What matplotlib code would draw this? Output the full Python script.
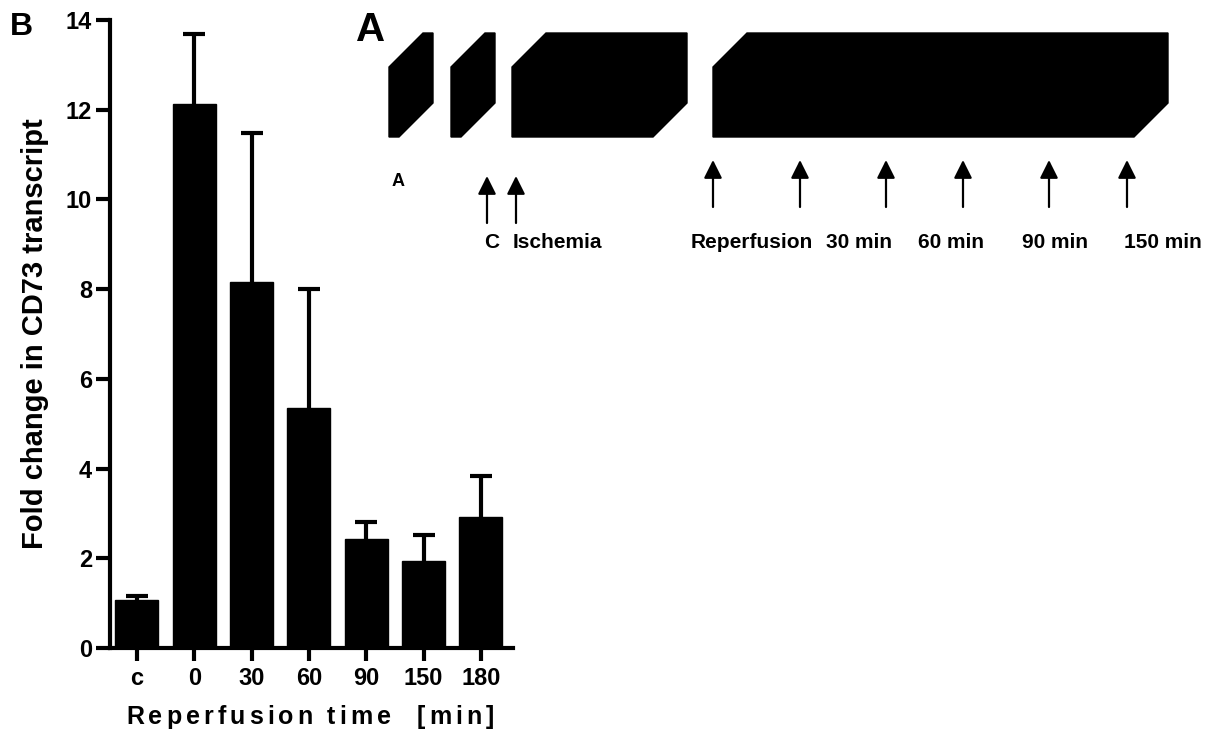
import numpy as np
import matplotlib
matplotlib.use('Agg')
import matplotlib.pyplot as plt
from matplotlib.patches import Polygon
from matplotlib.font_manager import FontProperties, findfont, get_font

plt.rcParams['font.family'] = ['Liberation Sans', 'DejaVu Sans']
plt.rcParams['font.weight'] = 'bold'

# data (panel B)
groups = ['c', '0', '30', '60', '90', '150', '180']
fold_change = [1.08, 12.13, 8.17, 5.36, 2.43, 1.93, 2.93]
sem = [0.07, 1.56, 3.31, 2.64, 0.38, 0.58, 0.91]
y_ticks = [0, 2, 4, 6, 8, 10, 12, 14]

# schematic labels (panel A)
ref_labels = ['Reperfusion', '30 min', '60 min', '90 min', '150 min']

W, H = 1214, 734
fig = plt.figure(figsize=(W / 100, H / 100), dpi=100)

ax = fig.add_axes([110 / W, 1 - 648 / H, 403 / W, 628 / H])
ax.patch.set_alpha(0)
x = np.arange(len(groups))
ax.bar(x, fold_change, width=0.75, color='black', edgecolor='black')
_, caps, _ = ax.errorbar(x, fold_change, yerr=[np.zeros(len(sem)), sem], fmt='none',
                         ecolor='black', elinewidth=3, capsize=8, capthick=3)
caps[0].set_visible(False)  # only the upper cap
ax.set_xlim(-0.47, 6.56)
ax.set_ylim(0, 14)
ax.set_yticks(y_ticks)
ax.set_xticks(x)
ax.set_xticklabels(groups)
for s in ['top', 'right']:
    ax.spines[s].set_visible(False)
for s in ['left', 'bottom']:
    ax.spines[s].set_linewidth(3)
ax.tick_params(axis='y', length=10, width=3, pad=3, labelsize=17)
ax.tick_params(axis='x', length=9, width=3, pad=5, labelsize=17)
for lab in ax.get_xticklabels() + ax.get_yticklabels():
    lab.set_fontweight('bold')
ax.set_ylabel('Fold change in CD73 transcript', fontsize=21, fontweight='bold',
              labelpad=12)

# overlay in pixel coordinates
ov = fig.add_axes([0, 0, 1, 1])
ov.set_xlim(0, W)
ov.set_ylim(H, 0)
ov.axis('off')
ov.patch.set_alpha(0)

# letter-spaced x label
xlabel = 'Reperfusion time  [min]'
fp = FontProperties(family='Liberation Sans', weight='bold', size=18)
font = get_font(findfont(fp))
font.set_size(18, 100)
adv = [font.load_char(ord(ch)).linearHoriAdvance / 65536 for ch in xlabel]
track = 4
total = sum(adv) + track * (len(xlabel) - 1)
cx = 310 - total / 2
for ch, a in zip(xlabel, adv):
    ov.text(cx, 717, ch, fontproperties=fp, ha='left', va='center')
    cx += a + track

# panel letters
ov.text(10, 27, 'B', fontsize=23, fontweight='bold', ha='left', va='center')
ov.text(356, 30, 'A', fontsize=29, fontweight='bold', ha='left', va='center')

# blocks of the protocol
yb, yt, d = 137, 67, 34
for x0, x1 in [(389, 399), (451, 461), (512, 653), (713, 1134)]:
    pts = [(x0, yb), (x1, yb), (x1 + d, yb - d), (x1 + d, yt - d),
           (x0 + d, yt - d), (x0, yt)]
    ov.add_patch(Polygon(pts, closed=True, facecolor='black', edgecolor='black', lw=1))

arrow = dict(arrowstyle='-|>,head_length=1.1,head_width=0.55', color='black',
             lw=1.6, shrinkA=0, shrinkB=0)
for xa in [487, 516]:
    ov.annotate('', xy=(xa, 176), xytext=(xa, 223), arrowprops=arrow)
for xa in [713, 800, 886, 963, 1049, 1127]:
    ov.annotate('', xy=(xa, 160), xytext=(xa, 207), arrowprops=arrow)

ov.text(398, 182, 'A', fontsize=13, fontweight='bold', ha='center', va='center')
ov.text(492, 242, 'C', fontsize=15, fontweight='bold', ha='center', va='center')
ov.text(513, 242, 'Ischemia', fontsize=15, fontweight='bold', ha='left', va='center')
for xl, lab in zip([691, 826, 918, 1022, 1124], ref_labels):
    ov.text(xl, 242, lab, fontsize=15, fontweight='bold', ha='left', va='center')

fig.savefig('out.png', dpi=100)
